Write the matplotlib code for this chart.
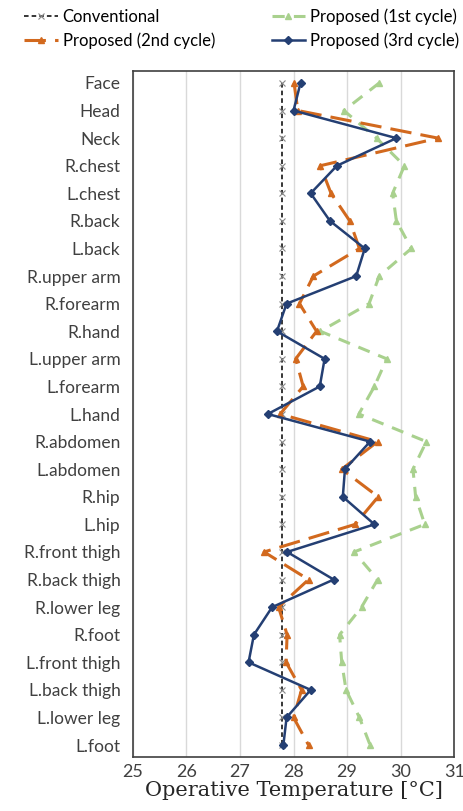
import matplotlib.pyplot as plt

# body parts (top to bottom)
parts = ['Face', 'Head', 'Neck', 'R.chest', 'L.chest', 'R.back', 'L.back',
         'R.upper arm', 'R.forearm', 'R.hand', 'L.upper arm', 'L.forearm',
         'L.hand', 'R.abdomen', 'L.abdomen', 'R.hip', 'L.hip',
         'R.front thigh', 'R.back thigh', 'R.lower leg', 'R.foot',
         'L.front thigh', 'L.back thigh', 'L.lower leg', 'L.foot']

conventional = [27.78] * len(parts)
cycle1 = [29.60, 28.94, 29.55, 30.07, 29.85, 29.92, 30.20,
          29.60, 29.41, 28.50, 29.74, 29.51,
          29.22, 30.48, 30.23, 30.28, 30.45,
          29.13, 29.57, 29.27, 28.86,
          28.90, 28.98, 29.23, 29.43]
cycle2 = [28.01, 28.08, 30.70, 28.50, 28.70, 29.05, 29.23,
          28.37, 28.11, 28.43, 28.04, 28.18,
          27.75, 29.57, 28.90, 29.58, 29.15,
          27.45, 28.28, 27.72, 27.88,
          27.86, 28.15, 28.00, 28.28]
cycle3 = [28.13, 28.00, 29.92, 28.81, 28.32, 28.68, 29.33,
          29.17, 27.87, 27.69, 28.58, 28.49,
          27.52, 29.43, 28.96, 28.92, 29.51,
          27.88, 28.75, 27.60, 27.26,
          27.16, 28.32, 27.87, 27.81]

plt.rcParams['font.family'] = ['Lato', 'DejaVu Sans']

fig = plt.figure(figsize=(4.63, 8.11), dpi=100)
ax = fig.add_axes([0.287, 0.067, 0.694, 0.846])

y = list(range(len(parts)))

ax.plot(conventional, y, color='black', ls=(0, (3, 2)), lw=1.1,
        marker='x', ms=4, mec='#888888', mew=0.8, label='Conventional', zorder=3)
ax.plot(cycle1, y, color='#a9d18e', ls=(0, (4, 3)), lw=2.2,
        marker='^', ms=5, label='Proposed (1st cycle)', zorder=2)
ax.plot(cycle2, y, color='#d2691e', ls=(0, (7, 3)), lw=2.2,
        marker='^', ms=5, label='Proposed (2nd cycle)', zorder=4)
ax.plot(cycle3, y, color='#243f73', lw=1.8,
        marker='D', ms=4.5, label='Proposed (3rd cycle)', zorder=5)

ax.set_xlim(25, 31)
ax.set_ylim(24.42, -0.45)
ax.set_xticks(range(25, 32))
ax.set_yticks(y)
ax.set_yticklabels(parts)
ax.tick_params(axis='y', length=0, labelsize=12.5, colors='#404040', pad=9)
ax.tick_params(axis='x', length=0, labelsize=13, colors='#404040', pad=5)
ax.grid(axis='x', color='#d9d9d9', lw=1)
ax.set_axisbelow(True)
for s in ax.spines.values():
    s.set_color('#404040')
    s.set_linewidth(1.2)

ax.set_xlabel('Operative Temperature [°C]', fontsize=15, family=['DejaVu Serif'],
              color='#262626', labelpad=1)

handles, labels = ax.get_legend_handles_labels()
order = [0, 2, 1, 3]
fig.legend([handles[i] for i in order], [labels[i] for i in order],
           loc='upper left', bbox_to_anchor=(0.02, 1.008), ncol=2, frameon=False,
           fontsize=12, handlelength=2.0, handletextpad=0.3, columnspacing=3.4,
           labelspacing=0.45)

fig.savefig('out.png', dpi=100)
